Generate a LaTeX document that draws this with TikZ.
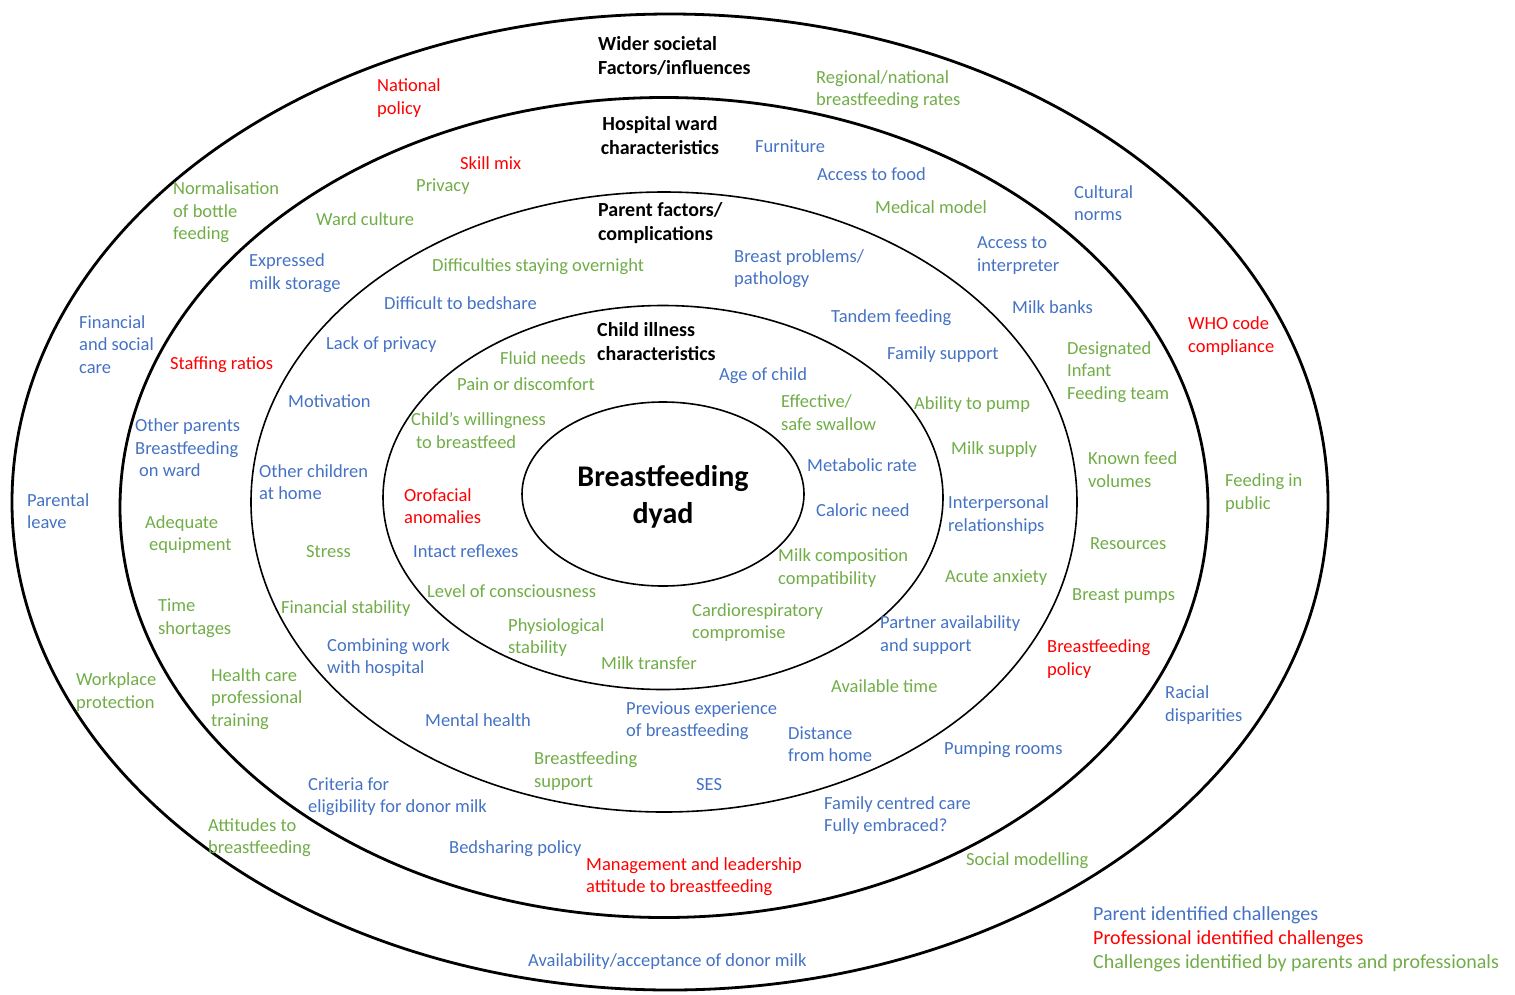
\documentclass[tikz,border=0pt]{standalone}
\usepackage{fontspec}
\setmainfont{Carlito}
\definecolor{pblue}{HTML}{4472C4}
\definecolor{pred}{HTML}{FF0000}
\definecolor{pgreen}{HTML}{70AD47}
\begin{document}
\begin{tikzpicture}[x=1pt,y=-1pt,
  thickring/.style={draw=black, line width=2.8pt},
  thinring/.style={draw=black, line width=1.6pt},
  lab/.style={anchor=west, inner sep=0pt, align=left, yshift=-1.5pt, font=\fontsize{18.5}{22.5}\selectfont},
  pb/.style={lab, text=pblue},
  pr/.style={lab, text=pred},
  pg/.style={lab, text=pgreen},
  keytext/.style={font=\fontsize{20}{24}\selectfont},
  head/.style={anchor=west, inner sep=0pt, align=left, yshift=-1pt, text=black, font=\fontsize{20}{24}\selectfont\bfseries},
  core/.style={anchor=center, inner sep=0pt, align=center, text=black, font=\fontsize{30}{37}\selectfont\bfseries}
]
\useasboundingbox (0,0) rectangle (1515,994);

% concentric rings
\draw[thickring] (670,502) ellipse [x radius=658pt, y radius=488pt];
\draw[thickring] (664,507.5) ellipse [x radius=544pt, y radius=410pt];
\draw[thinring] (664,502) ellipse [x radius=413pt, y radius=310pt];
\draw[thinring] (663,497.5) ellipse [x radius=280pt, y radius=192pt];
\draw[thinring] (663,494) ellipse [x radius=141pt, y radius=92pt];

% centre
\node[core] (dyad) at (663,497) {Breastfeeding\\dyad};

% wider societal factors
\node[head] (hsoc) at (598,55) {Wider societal\\Factors/influences};
\node[pr] (s1) at (377,96.5) {National\\policy};
\node[pg] (s2) at (816,88) {Regional/national\\breastfeeding rates};
\node[pg] (s3) at (173,211) {Normalisation\\of bottle\\feeding};
\node[pb] (s4) at (1074,201.5) {Cultural\\norms};
\node[pb] (s5) at (79,343) {Financial\\and social\\care};
\node[pr] (s6) at (1188,334.5) {WHO code\\compliance};
\node[pb] (s7) at (27,509.5) {Parental\\leave};
\node[pg] (s8) at (1225,491.5) {Feeding in\\public};
\node[pg] (s9) at (76,690.5) {Workplace\\protection};
\node[pb] (s10) at (1165,703.5) {Racial\\disparities};
\node[pg] (s11) at (208,836) {Attitudes to\\breastfeeding};
\node[pg] (s12) at (966,859) {Social modelling};
\node[pb] (s13) at (528,960) {Availability/acceptance of donor milk};

% hospital ward characteristics
\node[head, align=center, anchor=center] (hward) at (660,135) {Hospital ward\\characteristics};
\node[pr] (h1) at (460,162) {Skill mix};
\node[pg] (h2) at (416,185) {Privacy};
\node[pb] (h3) at (755,145) {Furniture};
\node[pb] (h4) at (817,173) {Access to food};
\node[pg] (h5) at (875,206) {Medical model};
\node[pg] (h6) at (316,218) {Ward culture};
\node[pb] (h7) at (249,271.5) {Expressed\\milk storage};
\node[pb] (h8) at (977,254) {Access to\\interpreter};
\node[pb] (h9) at (1012,306) {Milk banks};
\node[pr] (h10) at (170,363) {Staffing ratios};
\node[pg] (h11) at (1067,370.5) {Designated\\Infant\\Feeding team};
\node[pb] (h12) at (135,446.5) {Other parents\\Breastfeeding\\\hspace{4pt}on ward};
\node[pg] (h13) at (1088,468) {Known feed\\volumes};
\node[pg] (h14) at (145,533) {Adequate\\\hspace{4pt}equipment};
\node[pg] (h15) at (1090,542) {Resources};
\node[pg] (h16) at (158,616.5) {Time\\shortages};
\node[pg] (h17) at (1072,595) {Breast pumps};
\node[pr] (h18) at (1047,657.5) {Breastfeeding\\policy};
\node[pg] (h19) at (211,697.5) {Health care\\professional\\training};
\node[pb] (h20) at (944,748) {Pumping rooms};
\node[pb] (h21) at (308,795) {Criteria for\\eligibility for donor milk};
\node[pb] (h22) at (824,814) {Family centred care\\Fully embraced?};
\node[pb] (h23) at (449,847) {Bedsharing policy};
\node[pr] (h24) at (586,875) {Management and leadership\\attitude to breastfeeding};

% parent factors / complications
\node[head] (hpar) at (598,222) {Parent factors/\\complications};
\node[pg] (p1) at (432,265) {Difficulties staying overnight};
\node[pb] (p2) at (734,267) {Breast problems/\\pathology};
\node[pb] (p3) at (384,302) {Difficult to bedshare};
\node[pb] (p4) at (831,316) {Tandem feeding};
\node[pb] (p5) at (326,343) {Lack of privacy};
\node[pb] (p6) at (887,353) {Family support};
\node[pb] (p7) at (288,400) {Motivation};
\node[pg] (p8) at (914,403) {Ability to pump};
\node[pg] (p9) at (951,448) {Milk supply};
\node[pb] (p10) at (259,480.5) {Other children\\at home};
\node[pb] (p11) at (948,513.5) {Interpersonal\\relationships};
\node[pg] (p12) at (306,550) {Stress};
\node[pg] (p13) at (945,576) {Acute anxiety};
\node[pg] (p14) at (281,607) {Financial stability};
\node[pb] (p15) at (880,633.5) {Partner availability\\and support};
\node[pb] (p16) at (327,656) {Combining work\\with hospital};
\node[pg] (p17) at (831,685) {Available time};
\node[pb] (p18) at (425,719) {Mental health};
\node[pb] (p19) at (626,719) {Previous experience\\of breastfeeding};
\node[pb] (p20) at (788,742.5) {Distance\\from home};
\node[pg] (p21) at (534,769.5) {Breastfeeding\\support};
\node[pb] (p22) at (696,783) {SES};

% child illness characteristics
\node[head] (hchild) at (597,341) {Child illness\\characteristics};
\node[pg] (c1) at (500,357) {Fluid needs};
\node[pg] (c2) at (457,383) {Pain or discomfort};
\node[pb] (c3) at (719,374) {Age of child};
\node[pg] (c4) at (411,429) {Child’s willingness\\\hspace{5pt}to breastfeed};
\node[pg] (c5) at (781,411) {Effective/\\safe swallow};
\node[pb] (c6) at (807,464) {Metabolic rate};
\node[pr] (c7) at (404,504.5) {Orofacial\\anomalies};
\node[pb] (c8) at (816,509) {Caloric need};
\node[pb] (c9) at (413,550) {Intact reflexes};
\node[pg] (c10) at (778,566.5) {Milk composition\\compatibility};
\node[pg] (c11) at (427,590) {Level of consciousness};
\node[pg] (c12) at (692,621) {Cardiorespiratory\\compromise};
\node[pg] (c13) at (508,636) {Physiological\\stability};
\node[pg] (c14) at (601,662) {Milk transfer};

% key
\node[pb, keytext] (k1) at (1093,914) {Parent identified challenges};
\node[pr, keytext] (k2) at (1093,938) {Professional identified challenges};
\node[pg, keytext] (k3) at (1093,962) {Challenges identified by parents and professionals};
\end{tikzpicture}
\end{document}
